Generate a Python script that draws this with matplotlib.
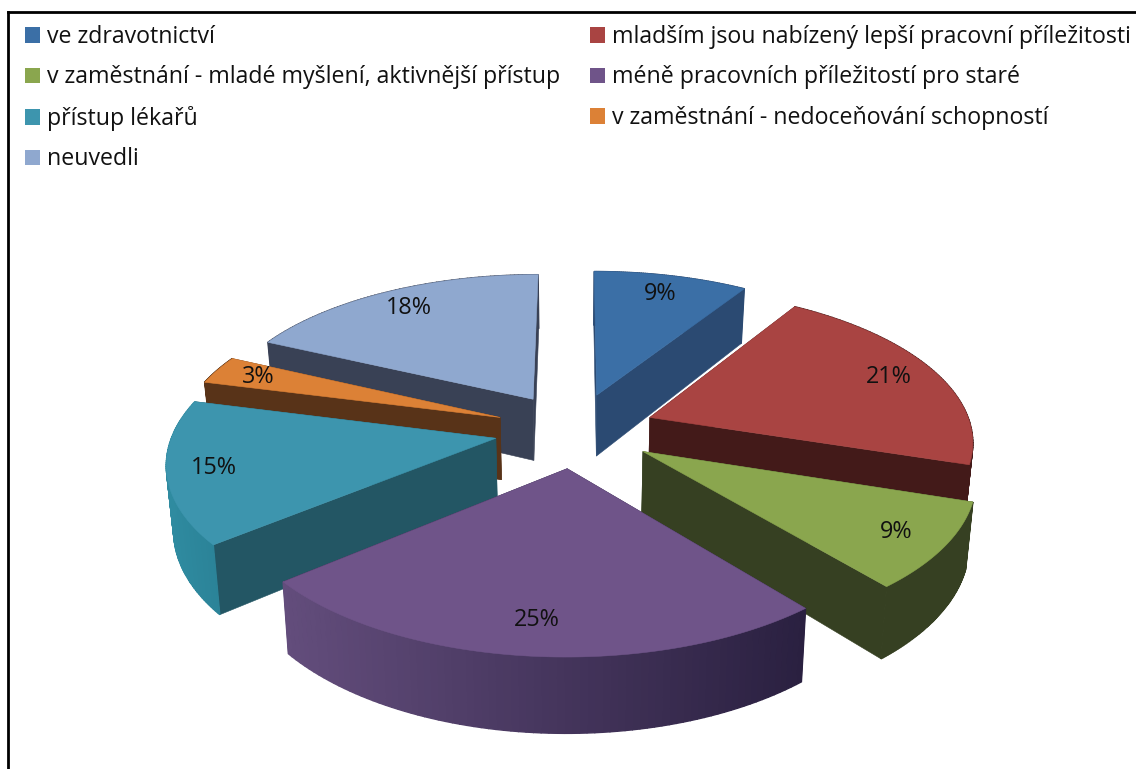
import numpy as np
import matplotlib
matplotlib.use('Agg')
import matplotlib.pyplot as plt
from matplotlib.patches import Patch
from matplotlib.colors import to_rgb

plt.rcParams['font.family'] = ['Open Sans', 'DejaVu Sans']

labels = ['ve zdravotnictví', 'mladším jsou nabízený lepší pracovní příležitosti',
          'v zaměstnání - mladé myšlení, aktivnější přístup', 'méně pracovních příležitostí pro staré',
          'přístup lékařů', 'v zaměstnání - nedoceňování schopností', 'neuvedli']
values = [9, 21, 9, 25, 15, 3, 18]

top_colors = ['#3b6fa6', '#a94442', '#8aa64e', '#6f5489', '#3d95ae', '#dc8136', '#8fa8cf']
side_colors = ['#2b4a72', '#431a19', '#364022', '#2a2140', '#235664', '#583318', '#394155']
# outer rim: colour at left end, colour at right end
rim_colors = [('#2b4a72', '#2b4a72'), ('#431a19', '#431a19'), ('#364022', '#364022'),
              ('#634d7c', '#2a2040'), ('#2f8ba0', '#2b8398'), ('#583318', '#583318'),
              ('#394155', '#394155')]
draw_order = [6, 0, 5, 1, 4, 2, 3]

# pie geometry, image pixels
cx, cy = 575, 430
rx, ry = 322, 150
persp = 0.14
explode = 0.25
thick = 63
shrink = 0.982
label_r = [0.83, 0.84, 0.85, 0.83, 0.86, 0.85, 0.84]


def project(u, v, low=False):
    s = 1 / (1 + persp * v)
    x = rx * u * s
    y = cy - ry * v * s
    if low:
        return cx + x * shrink, y + thick * s
    return cx + x, y


fig = plt.figure(figsize=(11.36, 7.69), dpi=100)
ax = fig.add_axes([8 / 1136, 0, 1 - 8 / 1136, 1 - 12 / 769])
ax.set_xlim(8, 1136)
ax.set_ylim(769, 12)
ax.set_xticks([])
ax.set_yticks([])
ax.spines['right'].set_visible(False)
ax.spines['bottom'].set_visible(False)
ax.spines['top'].set_linewidth(2)
ax.spines['left'].set_linewidth(2)

edges = np.cumsum([0] + values) / sum(values) * 2 * np.pi

for i in draw_order:
    a0, a1 = edges[i], edges[i + 1]
    mid = (a0 + a1) / 2
    du, dv = explode * np.sin(mid), explode * np.cos(mid)
    t = np.linspace(a0, a1, 80)
    u = du + np.sin(t)
    v = dv + np.cos(t)

    xt, yt = project(u, v)
    xb, yb = project(u, v, low=True)

    # the two flat cut faces
    ax_, ay_ = project(du, dv)
    bx_, by_ = project(du, dv, low=True)
    for end in [0, -1]:
        ax.fill([ax_, xt[end], xb[end], bx_], [ay_, yt[end], yb[end], by_],
                color=side_colors[i], lw=0.4, zorder=2)

    # outer rim as small quads, so that it can carry a gradient
    c0, c1 = np.array(to_rgb(rim_colors[i][0])), np.array(to_rgb(rim_colors[i][1]))
    xmin, xmax = xt.min(), xt.max()
    for k in range(len(t) - 1):
        f = ((xt[k] + xt[k + 1]) / 2 - xmin) / (xmax - xmin)
        col = c0 + (c1 - c0) * f
        ax.fill([xt[k], xt[k + 1], xb[k + 1], xb[k]], [yt[k], yt[k + 1], yb[k + 1], yb[k]],
                color=col, lw=1.0, zorder=2)

    # top face
    ax.fill(np.r_[ax_, xt], np.r_[ay_, yt], color=top_colors[i], lw=0.4, zorder=2)

    lx, ly = project(du + label_r[i] * np.sin(mid), dv + label_r[i] * np.cos(mid))
    ax.text(lx, ly, f'{values[i]}%', fontsize=16.8, color='#111111',
            ha='center', va='center', zorder=5)

# legend is filled by columns, the reference reads by rows
order = [0, 2, 4, 6, 1, 3, 5]
handles = [Patch(facecolor=top_colors[i], edgecolor='none', label=labels[i]) for i in order]
leg = ax.legend(handles=handles, ncols=2, frameon=False, loc='upper left',
                bbox_to_anchor=(17 / 1128, 1 - 13 / 757), prop={'size': 16.7},
                borderpad=0, borderaxespad=0, handlelength=0.65, handleheight=0.65,
                handletextpad=0.3, labelspacing=0.71, columnspacing=1.29)
for txt in leg.get_texts():
    txt.set_color('#111111')

fig.savefig('out.png', dpi=100, facecolor='white')
